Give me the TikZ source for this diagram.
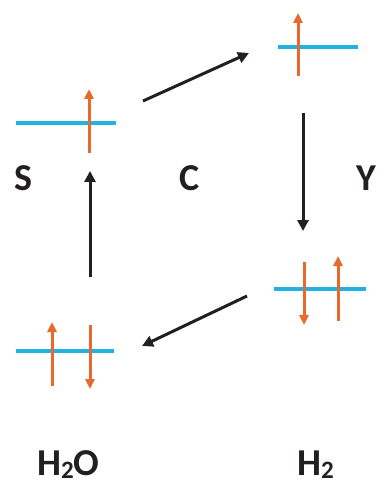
\documentclass[tikz,border=0pt]{standalone}
\usepackage{fontspec}
\setmainfont{Carlito}
\usetikzlibrary{arrows.meta}
\definecolor{lvlblue}{HTML}{22B2DF}
\definecolor{spinor}{HTML}{E8692C}
\definecolor{inkblk}{HTML}{231F20}
\tikzset{
  x=1pt, y=-1pt,
  level/.style={draw=lvlblue, line width=3.2pt},
  spin/.style={draw=spinor, line width=3pt, -{Triangle[length=10pt, width=9pt]}},
  flow/.style={draw=inkblk, line width=3pt, -{Triangle[length=11pt, width=11pt]}},
  lbl/.style={font=\bfseries\fontsize{38}{42}\selectfont, text=inkblk, inner sep=0pt, anchor=base west}
}
\begin{document}
\begin{tikzpicture}
\useasboundingbox (0,0) rectangle (377,486);
% levels
\draw[level] (16,123) coordinate (sL) -- (116,123) coordinate (sR);
\draw[level] (278,47) coordinate (tL) -- (358,47) coordinate (tR);
\draw[level] (274,289) coordinate (hL) -- (366,289) coordinate (hR);
\draw[level] (16,351) coordinate (wL) -- (114,351) coordinate (wR);
% spins
\draw[spin] (89,153) coordinate (s1a) -- (89,89) coordinate (s1b);
\draw[spin] (298,76) coordinate (t1a) -- (298,13) coordinate (t1b);
\draw[spin] (304,262) coordinate (h1a) -- (304,325) coordinate (h1b);
\draw[spin] (338,321) coordinate (h2a) -- (338,256) coordinate (h2b);
\draw[spin] (52,386) coordinate (w1a) -- (52,322) coordinate (w1b);
\draw[spin] (90,325) coordinate (w2a) -- (90,389) coordinate (w2b);
% flow arrows
\coordinate (a1s) at (143,101); \coordinate (a1e) at (249,53);
\coordinate (a2s) at (303,113); \coordinate (a2e) at (303,231);
\coordinate (a3s) at (247,296); \coordinate (a3e) at (142,346);
\coordinate (a4s) at (90,277); \coordinate (a4e) at (90,171);
\draw[flow] (a1s) -- (a1e);
\draw[flow] (a2s) -- (a2e);
\draw[flow] (a3s) -- (a3e);
\draw[flow] (a4s) -- (a4e);
% labels
\node[lbl] (labS) at (14,190) {S};
\node[lbl] (labC) at (179,190) {C};
\node[lbl] (labY) at (356,190) {Y};
\node[lbl] (labW) at (37,475) {H\raisebox{-0.18ex}{\fontsize{25}{28}\selectfont 2}O};
\node[lbl] (labH) at (297,475) {H\raisebox{-0.18ex}{\fontsize{25}{28}\selectfont 2}};
\end{tikzpicture}
\end{document}
